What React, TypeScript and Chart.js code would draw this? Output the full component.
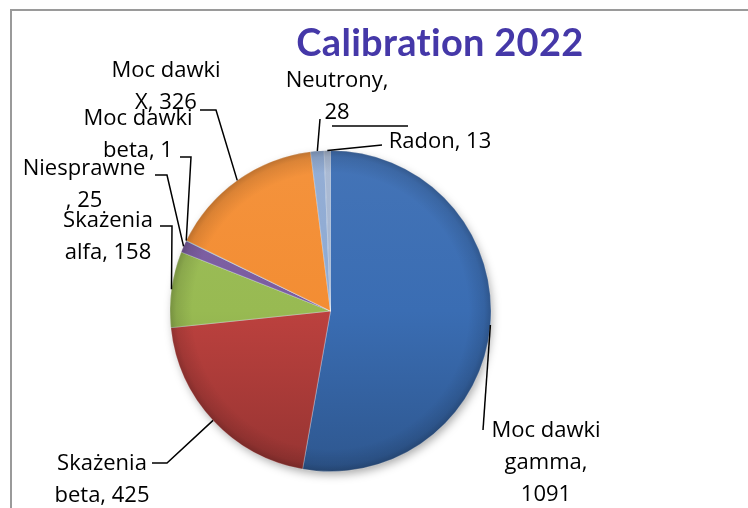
import React, { useEffect, useRef } from "react";
import { Chart, registerables } from "chart.js";

Chart.register(...registerables);

// ---- data ----
const categories = [
  "Moc dawki gamma",
  "Skażenia beta",
  "Skażenia alfa",
  "Niesprawne",
  "Moc dawki beta",
  "Moc dawki X",
  "Neutrony",
  "Radon",
];
const values = [1091, 425, 158, 25, 1, 326, 28, 13];
const titleText = "Calibration 2022";

// ---- styles / layout ----
const colors = ["#3A6DB3", "#BC413E", "#98BA52", "#7A5CA0", "#3FA6C2", "#F38D33", "#8EAAD3", "#A7B7D2"];
// character positions where each data label wraps
const labelBreaks = [[10, 17], [9], [9], [10], [10], [10], [10], []];
// label anchor (center x, first baseline), leader start and optional elbow
const labelLayout = [
  { x: 546, y: 437, start: [483, 430], elbow: null },
  { x: 102, y: 470, start: [152, 463], elbow: [167, 463] },
  { x: 108, y: 227, start: [160, 226], elbow: [172, 226] },
  { x: 84, y: 175, start: [155, 175], elbow: [167, 175] },
  { x: 138, y: 125, start: [180, 157], elbow: [191, 157] },
  { x: 166, y: 77, start: [200, 110], elbow: [216, 110] },
  { x: 337, y: 87, start: [320, 119], elbow: null },
  { x: 440, y: 148, start: [382, 145], elbow: null },
];
const extraLine = [[332, 126], [408, 126]];

function mix(hex: string, amt: number): string {
  const n = parseInt(hex.slice(1), 16);
  let r = (n >> 16) & 255, g = (n >> 8) & 255, b = n & 255;
  const t = amt > 0 ? 255 : 0;
  const p = Math.abs(amt);
  r = Math.round(r + (t - r) * p);
  g = Math.round(g + (t - g) * p);
  b = Math.round(b + (t - b) * p);
  return `rgb(${r},${g},${b})`;
}

function splitLabel(text: string, breaks: number[]): string[] {
  const out: string[] = [];
  let prev = 0;
  for (const b of breaks) {
    out.push(text.slice(prev, b).trim());
    prev = b;
  }
  out.push(text.slice(prev).trim());
  return out;
}

const decorPlugin = {
  id: "decor",
  beforeDatasetsDraw(chart: any) {
    const arc = chart.getDatasetMeta(0).data[0];
    if (!arc) return;
    const ctx = chart.ctx;
    ctx.save();
    ctx.shadowColor = "rgba(0,0,0,0.35)";
    ctx.shadowBlur = 10;
    ctx.shadowOffsetX = 2;
    ctx.shadowOffsetY = 4;
    ctx.beginPath();
    ctx.arc(arc.x, arc.y, arc.outerRadius - 1, 0, Math.PI * 2);
    ctx.fillStyle = "#3a68a8";
    ctx.fill();
    ctx.restore();
  },
  afterDatasetsDraw(chart: any) {
    const ctx = chart.ctx;
    const meta = chart.getDatasetMeta(0);
    const first = meta.data[0];
    // bevel rim shading
    if (first) {
      const cx = first.x, cy = first.y, r = first.outerRadius;
      ctx.save();
      const g = ctx.createRadialGradient(cx, cy, 0, cx, cy, r);
      g.addColorStop(0, "rgba(0,0,0,0)");
      g.addColorStop(0.86, "rgba(0,0,0,0)");
      g.addColorStop(0.96, "rgba(0,0,0,0.10)");
      g.addColorStop(1, "rgba(0,0,0,0.22)");
      ctx.beginPath();
      ctx.arc(cx, cy, r, 0, Math.PI * 2);
      ctx.fillStyle = g;
      ctx.fill();
      ctx.restore();
    }

    ctx.save();
    // frame
    ctx.strokeStyle = "#9a9a9a";
    ctx.lineWidth = 2;
    ctx.beginPath();
    ctx.moveTo(11, 508);
    ctx.lineTo(11, 10);
    ctx.lineTo(748, 10);
    ctx.stroke();

    // title
    ctx.fillStyle = "#4538A8";
    ctx.font = 'bold 38px Lato, "Open Sans", sans-serif';
    ctx.textAlign = "center";
    ctx.textBaseline = "alphabetic";
    try { (ctx as any).letterSpacing = "0.3px"; } catch (e) {}
    ctx.fillText(titleText, 440, 56);
    try { (ctx as any).letterSpacing = "0px"; } catch (e) {}

    // leader lines
    ctx.strokeStyle = "#000";
    ctx.lineWidth = 1.5;
    meta.data.forEach((el: any, i: number) => {
      const lay = labelLayout[i];
      if (!lay) return;
      const mid = (el.startAngle + el.endAngle) / 2;
      const ex = el.x + Math.cos(mid) * el.outerRadius;
      const ey = el.y + Math.sin(mid) * el.outerRadius;
      ctx.beginPath();
      ctx.moveTo(lay.start[0], lay.start[1]);
      if (lay.elbow) ctx.lineTo(lay.elbow[0], lay.elbow[1]);
      ctx.lineTo(ex, ey);
      ctx.stroke();
    });
    ctx.beginPath();
    ctx.moveTo(extraLine[0][0], extraLine[0][1]);
    ctx.lineTo(extraLine[1][0], extraLine[1][1]);
    ctx.stroke();

    // data labels
    ctx.fillStyle = "#000";
    ctx.font = '22px "Open Sans", sans-serif';
    ctx.textAlign = "center";
    categories.forEach((cat, i) => {
      const lay = labelLayout[i];
      const lines = splitLabel(`${cat}, ${values[i]}`, labelBreaks[i]);
      lines.forEach((ln, j) => ctx.fillText(ln, lay.x, lay.y + j * 32));
    });
    ctx.restore();
  },
};

export default function App() {
  const ref = useRef<HTMLCanvasElement | null>(null);
  useEffect(() => {
    if (!ref.current) return;
    const chart = new Chart(ref.current, {
      type: "pie",
      data: {
        labels: categories,
        datasets: [
          {
            data: values,
            backgroundColor: (c: any) => {
              const base = colors[c.dataIndex ?? 0];
              const area = c.chart.chartArea;
              if (!area) return base;
              const g = c.chart.ctx.createLinearGradient(0, area.top, 0, area.bottom);
              g.addColorStop(0, mix(base, 0.05));
              g.addColorStop(0.5, base);
              g.addColorStop(1, mix(base, -0.2));
              return g;
            },
            borderColor: "rgba(255,255,255,0.3)",
            borderWidth: 1,
          },
        ],
      },
      options: {
        responsive: false,
        animation: false,
        devicePixelRatio: 1,
        layout: { padding: { left: 169, top: 150, right: 256, bottom: 36 } },
        plugins: {
          legend: { display: false },
          tooltip: { enabled: false },
          title: { display: false },
        },
      },
      plugins: [decorPlugin],
    });
    return () => chart.destroy();
  }, []);
  return (
    <div style={{ position: "fixed", left: 0, top: 0, width: 748, height: 508, background: "#fff" }}>
      <canvas ref={ref} width={748} height={508} />
    </div>
  );
}
